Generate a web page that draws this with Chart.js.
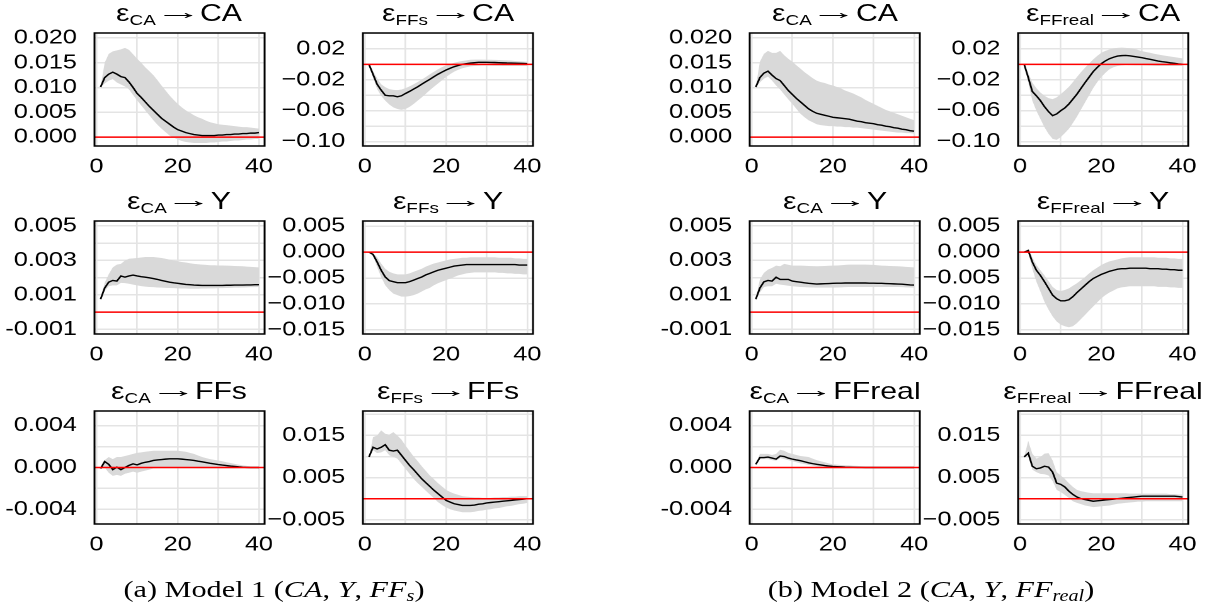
<!DOCTYPE html>
<html>
<head>
<meta charset="utf-8">
<script src="https://cdn.jsdelivr.net/npm/chart.js@4.4.1/dist/chart.umd.min.js"></script>
<style>
  body { margin:0; background:#fff; width:1212px; height:611px; position:relative; overflow:hidden;
         font-family:"Liberation Sans", Arial, sans-serif; }
  #fig { position:absolute; left:0; top:0; height:611px; transform-origin:0 0; }
  canvas { position:absolute; }
  .ttl { position:absolute; width:240px; text-align:center; font-size:24px; line-height:24px; white-space:nowrap; color:#000; }
  .ttl sub { font-size:15px; vertical-align:baseline; position:relative; top:4px; }
  .ttl .arr { display:inline-block; font-size:22px; transform:translateY(-2px) scaleX(1.7); margin:0 6px 0 7px; }
  .cap { position:absolute; width:400px; text-align:center; font-family:"Liberation Serif", "DejaVu Serif", serif;
         font-size:24px; line-height:24px; white-space:nowrap; color:#000; }
  .cap sub { font-size:16px; vertical-align:baseline; position:relative; top:4px; }
</style>
</head>
<body>
<div id="fig"></div>
<script>
// impulse horizon
var steps = [1,2,3,4,5,6,7,8,9,10,11,12,13,14,15,16,17,18,19,20,
             21,22,23,24,25,26,27,28,29,30,31,32,33,34,35,36,37,38,39,40];

// tick labels
var xTicks = ['0','20','40'];
var tickCA = ['0.020','0.015','0.010','0.005','0.000'];
var tickShockCA = ['0.02','\u22120.02','\u22120.06','\u22120.10'];
var tickY = ['0.005','0.003','0.001','-0.001'];
var tickShockY = ['0.005','0.000','\u22120.005','\u22120.010','\u22120.015'];
var tickFF = ['0.004','0.000','-0.004'];
var tickShockFF = ['0.015','0.005','\u22120.005'];

// ---- Model 1 ----
var m1CaCaMid = [0.0101,0.0120,0.0127,0.0131,0.0127,0.0122,0.0120,0.0111,0.0100,0.0088,0.0080,0.0071,0.0062,0.0054,0.0046,0.0038,0.0032,0.0026,0.0020,0.0015,
                 0.0012,0.0009,0.0007,0.0005,0.0004,0.0003,0.0003,0.0003,0.0003,0.0004,0.0004,0.0005,0.0005,0.0006,0.0006,0.0007,0.0007,0.0008,0.0008,0.0009];
var m1CaCaHi  = [0.0101,0.0150,0.0168,0.0173,0.0175,0.0177,0.0180,0.0176,0.0167,0.0158,0.0150,0.0141,0.0133,0.0125,0.0115,0.0104,0.0094,0.0084,0.0075,0.0067,
                 0.0060,0.0054,0.0049,0.0044,0.0040,0.0037,0.0033,0.0030,0.0028,0.0026,0.0025,0.0024,0.0023,0.0022,0.0021,0.0020,0.0020,0.0019,0.0018,0.0017];
var m1CaCaLo  = [0.0101,0.0108,0.0114,0.0117,0.0110,0.0106,0.0102,0.0096,0.0085,0.0074,0.0064,0.0054,0.0044,0.0034,0.0025,0.0017,0.0010,0.0003,-0.0001,-0.0005,
                 -0.0008,-0.0010,-0.0011,-0.0012,-0.0012,-0.0012,-0.0012,-0.0011,-0.0011,-0.0010,-0.0009,-0.0009,-0.0008,-0.0007,-0.0007,-0.0006,-0.0005,-0.0005,-0.0004,-0.0004];

var m1FfCaMid = [0,-0.0130,-0.0257,-0.0334,-0.0400,-0.0407,-0.0407,-0.0420,-0.0407,-0.0377,-0.0350,-0.0320,-0.0290,-0.0257,-0.0225,-0.0193,-0.0160,-0.0128,-0.0100,-0.0073,
                 -0.0050,-0.0030,-0.0014,0.0000,0.0009,0.0017,0.0022,0.0026,0.0026,0.0026,0.0025,0.0024,0.0022,0.0020,0.0018,0.0017,0.0015,0.0013,0.0011,0.0009];
var m1FfCaHi  = [0,-0.0086,-0.0180,-0.0257,-0.0295,-0.0320,-0.0330,-0.0334,-0.0325,-0.0308,-0.0285,-0.0257,-0.0228,-0.0197,-0.0163,-0.0128,-0.0095,-0.0064,-0.0036,-0.0013,
                 0.0005,0.0021,0.0033,0.0043,0.0052,0.0060,0.0062,0.0062,0.0061,0.0060,0.0059,0.0058,0.0056,0.0054,0.0051,0.0048,0.0044,0.0040,0.0037,0.0034];
var m1FfCaLo  = [0,-0.0170,-0.0320,-0.0407,-0.0470,-0.0520,-0.0557,-0.0578,-0.0590,-0.0578,-0.0550,-0.0514,-0.0470,-0.0428,-0.0380,-0.0334,-0.0290,-0.0248,-0.0205,-0.0163,
                 -0.0127,-0.0094,-0.0070,-0.0051,-0.0037,-0.0026,-0.0021,-0.0018,-0.0017,-0.0017,-0.0018,-0.0019,-0.0020,-0.0021,-0.0021,-0.0021,-0.0021,-0.0021,-0.0021,-0.0021];

var m1CaYMid = [0.00075,0.00140,0.00174,0.00184,0.00180,0.00210,0.00203,0.00210,0.00215,0.00210,0.00206,0.00203,0.00199,0.00195,0.00190,0.00184,0.00179,0.00174,0.00170,0.00167,
                0.00164,0.00161,0.00159,0.00157,0.00156,0.00155,0.00155,0.00155,0.00155,0.00155,0.00155,0.00156,0.00156,0.00157,0.00157,0.00157,0.00158,0.00158,0.00159,0.00159];
var m1CaYHi  = [0.00075,0.00170,0.00220,0.00260,0.00276,0.00280,0.00300,0.00310,0.00312,0.00314,0.00317,0.00320,0.00320,0.00320,0.00317,0.00314,0.00310,0.00305,0.00300,0.00295,
                0.00291,0.00288,0.00284,0.00280,0.00278,0.00276,0.00274,0.00272,0.00272,0.00271,0.00271,0.00270,0.00269,0.00268,0.00267,0.00266,0.00264,0.00263,0.00261,0.00260];
var m1CaYLo  = [0.00075,0.00123,0.00150,0.00155,0.00155,0.00170,0.00168,0.00165,0.00160,0.00155,0.00151,0.00148,0.00146,0.00145,0.00143,0.00142,0.00141,0.00140,0.00139,0.00138,
                0.00137,0.00137,0.00136,0.00136,0.00136,0.00137,0.00137,0.00138,0.00138,0.00139,0.00139,0.00140,0.00141,0.00142,0.00142,0.00143,0.00144,0.00145,0.00145,0.00146];

var m1FfYMid = [0,-0.00045,-0.0019,-0.0035,-0.0048,-0.0055,-0.0057,-0.0059,-0.0059,-0.0059,-0.0057,-0.0054,-0.0051,-0.0048,-0.0044,-0.0041,-0.0038,-0.0035,-0.0033,-0.0031,
                -0.0029,-0.0027,-0.0026,-0.0025,-0.0024,-0.0024,-0.0024,-0.0024,-0.0024,-0.0024,-0.0024,-0.0024,-0.0024,-0.0024,-0.0024,-0.0024,-0.0024,-0.0025,-0.0025,-0.0025];
var m1FfYHi  = [0,-0.0002,-0.0010,-0.0022,-0.0032,-0.0038,-0.0041,-0.0043,-0.0043,-0.0043,-0.0041,-0.0038,-0.0035,-0.0032,-0.0028,-0.0025,-0.0022,-0.0020,-0.0018,-0.0016,
                -0.0014,-0.0013,-0.0012,-0.0011,-0.0011,-0.0010,-0.0010,-0.0010,-0.0010,-0.0010,-0.0010,-0.0010,-0.0011,-0.0011,-0.0011,-0.0011,-0.0012,-0.0012,-0.0013,-0.0013];
var m1FfYLo  = [0,-0.0006,-0.0029,-0.0048,-0.0064,-0.0073,-0.0080,-0.0083,-0.0086,-0.0086,-0.0085,-0.0083,-0.0080,-0.0076,-0.0072,-0.0069,-0.0064,-0.0060,-0.0057,-0.0054,
                -0.0051,-0.0048,-0.0045,-0.0043,-0.0041,-0.0040,-0.0039,-0.0039,-0.0039,-0.0039,-0.0039,-0.0039,-0.0040,-0.0040,-0.0041,-0.0041,-0.0042,-0.0042,-0.0043,-0.0043];

var m1CaFfMid = [-0.0001,0.00057,0.0003,-0.0002,0.00003,-0.0002,0.0000,0.0002,0.00035,0.00025,0.0004,0.0005,0.00057,0.00067,0.00072,0.00076,0.0008,0.00083,0.00083,0.00083,
                 0.0008,0.00076,0.00072,0.00067,0.0006,0.00054,0.00047,0.0004,0.00034,0.00028,0.00023,0.00019,0.00014,0.0001,0.00006,0.00003,0.00001,0,0,0];
var m1CaFfHi  = [-0.0001,0.0007,0.0010,0.0008,0.0010,0.0010,0.0011,0.0012,0.0013,0.0014,0.00145,0.0015,0.00155,0.0016,0.0016,0.0016,0.0016,0.0016,0.0016,0.0016,
                 0.00155,0.0015,0.0014,0.0013,0.00115,0.0010,0.0009,0.0008,0.00073,0.00067,0.0006,0.0005,0.00043,0.00035,0.00028,0.0002,0.00015,0.0001,0.00008,0.00006];
var m1CaFfLo  = [-0.0001,0.0000,-0.0005,-0.0008,-0.0007,-0.0008,-0.0006,-0.0005,-0.0004,-0.0005,-0.0004,-0.0003,-0.0002,-0.0001,-0.00005,0,0,0,0.00003,0.00003,
                 0.00002,0,-0.00003,-0.00005,-0.00007,-0.00008,-0.00009,-0.0001,-0.0001,-0.0001,-0.0001,-0.0001,-0.0001,-0.0001,-0.00008,-0.00007,-0.00006,-0.00005,-0.00004,-0.00003];

var m1FfFfMid = [0.0099,0.0122,0.0118,0.0122,0.0128,0.0115,0.0113,0.0115,0.0103,0.0091,0.0079,0.0069,0.0058,0.0047,0.0038,0.0029,0.0020,0.0012,0.0004,-0.0004,
                 -0.0008,-0.0012,-0.0014,-0.0016,-0.0016,-0.0016,-0.0015,-0.0013,-0.0012,-0.0010,-0.0009,-0.0008,-0.0007,-0.0006,-0.0005,-0.0004,-0.0003,-0.0002,-0.0001,0.0000];
var m1FfFfHi  = [0.0099,0.0146,0.0150,0.0162,0.0154,0.0152,0.0158,0.0150,0.0140,0.0126,0.0113,0.0100,0.0089,0.0077,0.0066,0.0055,0.0046,0.0037,0.0029,0.0021,
                 0.0016,0.0012,0.0009,0.0006,0.0005,0.0004,0.0003,0.0003,0.0002,0.0002,0.0002,0.0003,0.0003,0.0004,0.0004,0.0005,0.0005,0.0006,0.0006,0.0006];
var m1FfFfLo  = [0.0099,0.0115,0.0108,0.0110,0.0115,0.0103,0.0099,0.0095,0.0083,0.0071,0.0059,0.0047,0.0037,0.0028,0.0019,0.0010,0.0001,-0.0008,-0.0015,-0.0021,
                 -0.0025,-0.0028,-0.0030,-0.0032,-0.0032,-0.0032,-0.0031,-0.0029,-0.0028,-0.0026,-0.0025,-0.0023,-0.0022,-0.0020,-0.0018,-0.0017,-0.0015,-0.0013,-0.0012,-0.0010];

// ---- Model 2 ----
var m2CaCaMid = [0.0101,0.0120,0.0129,0.0133,0.0125,0.0118,0.0114,0.0104,0.0094,0.0086,0.0078,0.0071,0.0064,0.0057,0.0052,0.0048,0.0046,0.0044,0.0042,0.0040,
                 0.0039,0.0038,0.0037,0.0036,0.0034,0.0032,0.0031,0.0029,0.0028,0.0027,0.0025,0.0024,0.0022,0.0021,0.0019,0.0018,0.0016,0.0015,0.0013,0.0012];
var m2CaCaHi  = [0.0101,0.0152,0.0168,0.0174,0.0170,0.0170,0.0174,0.0165,0.0158,0.0152,0.0145,0.0138,0.0131,0.0125,0.0119,0.0114,0.0111,0.0109,0.0106,0.0104,
                 0.0101,0.0098,0.0094,0.0091,0.0088,0.0084,0.0080,0.0075,0.0071,0.0067,0.0063,0.0059,0.0055,0.0052,0.0049,0.0046,0.0043,0.0040,0.0037,0.0034];
var m2CaCaLo  = [0.0101,0.0110,0.0118,0.0122,0.0114,0.0104,0.0096,0.0086,0.0076,0.0067,0.0057,0.0047,0.0040,0.0034,0.0030,0.0026,0.0024,0.0023,0.0022,0.0022,
                 0.0021,0.0021,0.0020,0.0020,0.0019,0.0019,0.0018,0.0017,0.0016,0.0015,0.0014,0.0013,0.0012,0.0011,0.0010,0.0009,0.0009,0.0008,0.0008,0.0007];

var m2FfCaMid = [0,-0.0170,-0.0350,-0.0407,-0.0470,-0.0548,-0.0612,-0.0664,-0.0642,-0.0600,-0.0565,-0.0514,-0.0450,-0.0385,-0.0310,-0.0236,-0.0165,-0.0094,-0.0040,0.0009,
                 0.0045,0.0073,0.0092,0.0107,0.0113,0.0116,0.0111,0.0103,0.0095,0.0086,0.0075,0.0065,0.0054,0.0043,0.0035,0.0028,0.0020,0.0013,0.0006,0.0000];
var m2FfCaHi  = [0,-0.0107,-0.0236,-0.0308,-0.0364,-0.0407,-0.0437,-0.0450,-0.0428,-0.0385,-0.0340,-0.0291,-0.0230,-0.0163,-0.0100,-0.0043,0.0010,0.0064,0.0110,0.0150,
                 0.0175,0.0193,0.0206,0.0214,0.0216,0.0214,0.0208,0.0201,0.0187,0.0171,0.0160,0.0150,0.0138,0.0128,0.0118,0.0110,0.0102,0.0094,0.0085,0.0077];
var m2FfCaLo  = [0,-0.0236,-0.0470,-0.0600,-0.0707,-0.0814,-0.0900,-0.0964,-0.0977,-0.0942,-0.0890,-0.0835,-0.0760,-0.0677,-0.0585,-0.0493,-0.0400,-0.0308,-0.0230,-0.0163,
                 -0.0110,-0.0064,-0.0038,-0.0021,-0.0013,-0.0009,-0.0010,-0.0011,-0.0012,-0.0013,-0.0015,-0.0017,-0.0019,-0.0021,-0.0021,-0.0021,-0.0021,-0.0021,-0.0021,-0.0021];

var m2CaYMid = [0.00075,0.00140,0.00176,0.00184,0.00180,0.00203,0.00190,0.00190,0.00190,0.00180,0.00177,0.00174,0.00170,0.00167,0.00165,0.00163,0.00164,0.00165,0.00166,0.00167,
                0.00168,0.00168,0.00169,0.00169,0.00169,0.00169,0.00169,0.00169,0.00168,0.00168,0.00167,0.00167,0.00166,0.00165,0.00164,0.00163,0.00162,0.00160,0.00158,0.00157];
var m2CaYHi  = [0.00075,0.00190,0.00228,0.00247,0.00257,0.00270,0.00266,0.00280,0.00275,0.00270,0.00270,0.00270,0.00269,0.00268,0.00267,0.00266,0.00267,0.00268,0.00269,0.00270,
                0.00271,0.00272,0.00274,0.00276,0.00276,0.00276,0.00276,0.00276,0.00275,0.00274,0.00272,0.00270,0.00269,0.00268,0.00267,0.00266,0.00265,0.00263,0.00261,0.00260];
var m2CaYLo  = [0.00075,0.00113,0.00146,0.00150,0.00150,0.00165,0.00160,0.00157,0.00153,0.00150,0.00148,0.00146,0.00145,0.00144,0.00143,0.00142,0.00142,0.00142,0.00142,0.00142,
                0.00143,0.00144,0.00145,0.00146,0.00146,0.00146,0.00146,0.00146,0.00146,0.00146,0.00146,0.00146,0.00146,0.00146,0.00146,0.00146,0.00145,0.00144,0.00143,0.00142];

var m2FfYMid = [0,0.0003,-0.0019,-0.0035,-0.0045,-0.0057,-0.0070,-0.0083,-0.0090,-0.0094,-0.0094,-0.0092,-0.0086,-0.0078,-0.0071,-0.0064,-0.0057,-0.0051,-0.0047,-0.0043,
                -0.0040,-0.0037,-0.0035,-0.0033,-0.0032,-0.0032,-0.0031,-0.0031,-0.0031,-0.0031,-0.0031,-0.0032,-0.0032,-0.0032,-0.0033,-0.0033,-0.0034,-0.0034,-0.0035,-0.0035];
var m2FfYHi  = [0,0.0006,-0.0010,-0.0025,-0.0035,-0.0045,-0.0056,-0.0067,-0.0073,-0.0075,-0.0073,-0.0070,-0.0065,-0.0060,-0.0054,-0.0048,-0.0041,-0.0035,-0.0030,-0.0025,
                -0.0021,-0.0018,-0.0016,-0.0014,-0.0012,-0.0011,-0.0010,-0.0010,-0.0010,-0.0010,-0.0010,-0.0010,-0.0010,-0.0011,-0.0011,-0.0011,-0.0012,-0.0012,-0.0013,-0.0013];
var m2FfYLo  = [0,-0.0001,-0.0032,-0.0057,-0.0076,-0.0096,-0.0111,-0.0124,-0.0134,-0.0140,-0.0143,-0.0145,-0.0143,-0.0137,-0.0129,-0.0121,-0.0113,-0.0105,-0.0097,-0.0089,
                -0.0083,-0.0078,-0.0074,-0.0070,-0.0068,-0.0067,-0.0066,-0.0066,-0.0066,-0.0066,-0.0066,-0.0066,-0.0066,-0.0067,-0.0067,-0.0067,-0.0068,-0.0068,-0.0069,-0.0069];

var m2CaFfMid = [0.0003,0.00095,0.00095,0.0010,0.0009,0.0008,0.0011,0.00105,0.0009,0.0008,0.00072,0.00065,0.00055,0.00045,0.00037,0.0003,0.00024,0.00018,0.00014,0.0001,
                 0.00008,0.00006,0.00004,0.00003,0.00002,0.00001,0.00001,0,0,0,0,0,0,0,0,0,0,0,0,0];
var m2CaFfHi  = [0.0003,0.0013,0.0013,0.0013,0.0012,0.0013,0.0017,0.0016,0.0014,0.0013,0.0012,0.0011,0.00105,0.0010,0.00085,0.0007,0.0006,0.0005,0.0004,0.0003,
                 0.00027,0.00024,0.00021,0.0002,0.00017,0.00015,0.00012,0.0001,0.00009,0.00008,0.00007,0.00006,0.00005,0.00005,0.00004,0.00004,0.00003,0.00003,0.00003,0.00003];
var m2CaFfLo  = [0.0003,0.0008,0.0008,0.0008,0.0007,0.00065,0.0009,0.0008,0.0007,0.0006,0.0005,0.0004,0.00032,0.00025,0.00018,0.0001,0.00006,0.00003,0,-0.00003,
                 -0.00004,-0.00005,-0.00006,-0.00006,-0.00006,-0.00006,-0.00006,-0.00006,-0.00006,-0.00006,-0.00006,-0.00006,-0.00005,-0.00005,-0.00005,-0.00005,-0.00004,-0.00004,-0.00003,-0.00003];

var m2FfFfMid = [0.0099,0.0108,0.0077,0.0071,0.0073,0.0077,0.0075,0.0063,0.0037,0.0034,0.0028,0.0018,0.0010,0.0004,0.0000,-0.0002,-0.0004,-0.0006,-0.0005,-0.0004,
                 -0.0003,-0.0002,-0.0001,0.0000,0.0001,0.0002,0.0003,0.0004,0.0005,0.0006,0.0006,0.0006,0.0006,0.0006,0.0006,0.0006,0.0006,0.0006,0.0005,0.0004];
var m2FfFfHi  = [0.0099,0.0137,0.0107,0.0095,0.0099,0.0107,0.0108,0.0091,0.0063,0.0055,0.0047,0.0037,0.0028,0.0021,0.0018,0.0016,0.0014,0.0013,0.0013,0.0013,
                 0.0013,0.0013,0.0013,0.0013,0.0013,0.0013,0.0012,0.0012,0.0012,0.0012,0.0012,0.0012,0.0012,0.0012,0.0012,0.0012,0.0011,0.0011,0.0010,0.0010];
var m2FfFfLo  = [0.0099,0.0115,0.0069,0.0063,0.0059,0.0058,0.0055,0.0042,0.0021,0.0016,0.0009,0.0002,-0.0006,-0.0010,-0.0013,-0.0016,-0.0018,-0.0020,-0.0019,-0.0018,
                 -0.0017,-0.0016,-0.0014,-0.0012,-0.0011,-0.0010,-0.0009,-0.0008,-0.0007,-0.0007,-0.0006,-0.0006,-0.0006,-0.0006,-0.0006,-0.0006,-0.0006,-0.0006,-0.0006,-0.0006];

// axis ranges per response row
var axCA      = {min:-0.0018, max:0.021,  step:0.005, labels:tickCA};
var axShockCA = {min:-0.1057, max:0.0406, step:0.02,  labels:tickShockCA};
var axY       = {min:-0.00127,max:0.00529,step:0.001, labels:tickY};
var axShockY  = {min:-0.0158, max:0.006,  step:0.005, labels:tickShockY};
var axFF      = {min:-0.0054, max:0.0054, step:0.002, labels:tickFF};
var axShockFF = {min:-0.006,  max:0.0208, step:0.005, labels:tickShockFF};

// the figure is drawn narrow and stretched sideways, like the original
var S = 1.26;
var fig = document.getElementById('fig');
fig.style.width = (1212 / S) + 'px';
fig.style.transform = 'scaleX(' + S + ')';

var colLeft = [94, 363, 750, 1018];   // box left edges on the page
var rowTop = [33, 221, 411];
var boxW = Math.round(170 / S), boxH = 113;
var yAxW = 80, padTop = 36, padRight = 20, xAxH = 40;

var panels = [
  {c:0, r:0, shock:'CA', resp:'CA', ax:axCA, mid:m1CaCaMid, hi:m1CaCaHi, lo:m1CaCaLo},
  {c:1, r:0, shock:'FFs', resp:'CA', ax:axShockCA, mid:m1FfCaMid, hi:m1FfCaHi, lo:m1FfCaLo},
  {c:0, r:1, shock:'CA', resp:'Y', ax:axY, mid:m1CaYMid, hi:m1CaYHi, lo:m1CaYLo},
  {c:1, r:1, shock:'FFs', resp:'Y', ax:axShockY, mid:m1FfYMid, hi:m1FfYHi, lo:m1FfYLo},
  {c:0, r:2, shock:'CA', resp:'FFs', ax:axFF, mid:m1CaFfMid, hi:m1CaFfHi, lo:m1CaFfLo},
  {c:1, r:2, shock:'FFs', resp:'FFs', ax:axShockFF, mid:m1FfFfMid, hi:m1FfFfHi, lo:m1FfFfLo},
  {c:2, r:0, shock:'CA', resp:'CA', ax:axCA, mid:m2CaCaMid, hi:m2CaCaHi, lo:m2CaCaLo},
  {c:3, r:0, shock:'FFreal', resp:'CA', ax:axShockCA, mid:m2FfCaMid, hi:m2FfCaHi, lo:m2FfCaLo},
  {c:2, r:1, shock:'CA', resp:'Y', ax:axY, mid:m2CaYMid, hi:m2CaYHi, lo:m2CaYLo},
  {c:3, r:1, shock:'FFreal', resp:'Y', ax:axShockY, mid:m2FfYMid, hi:m2FfYHi, lo:m2FfYLo},
  {c:2, r:2, shock:'CA', resp:'FFreal', ax:axFF, mid:m2CaFfMid, hi:m2CaFfHi, lo:m2CaFfLo},
  {c:3, r:2, shock:'FFreal', resp:'FFreal', ax:axShockFF, mid:m2FfFfMid, hi:m2FfFfHi, lo:m2FfFfLo}
];

function labelFor(list, v) {
  for (var i = 0; i < list.length; i++) {
    var n = parseFloat(list[i].replace('\u2212', '-'));
    if (Math.abs(n - v) < 1e-9) return list[i];
  }
  return '';
}

var framePlugin = {
  id: 'frame',
  afterDatasetsDraw: function(chart) {
    var ctx = chart.ctx, a = chart.chartArea;
    var y0 = chart.scales.y.getPixelForValue(0);
    ctx.save();
    ctx.beginPath();
    ctx.strokeStyle = '#ff0000';
    ctx.lineWidth = 1.5;
    ctx.moveTo(a.left, y0);
    ctx.lineTo(a.right, y0);
    ctx.stroke();
    ctx.strokeStyle = '#000';
    ctx.lineWidth = 1.5;
    ctx.strokeRect(a.left, a.top, a.right - a.left, a.bottom - a.top);
    ctx.restore();
  }
};

var tickFont = {family:'"Liberation Sans", Arial, sans-serif', size:20, lineHeight:1.2};

panels.forEach(function(p) {
  var left = colLeft[p.c] / S, top = rowTop[p.r];

  var cv = document.createElement('canvas');
  cv.width = yAxW + boxW + padRight;
  cv.height = padTop + boxH + xAxH;
  cv.style.left = (left - yAxW) + 'px';
  cv.style.top = (top - padTop) + 'px';
  fig.appendChild(cv);

  var t = document.createElement('div');
  t.className = 'ttl';
  t.style.left = (left + boxW / 2 - 120) + 'px';
  t.style.top = (top - 32) + 'px';
  t.innerHTML = '\u03b5<sub>' + p.shock + '</sub><span class="arr">\u2192</span>' + p.resp;
  fig.appendChild(t);

  new Chart(cv, {
    type: 'line',
    data: {
      labels: steps,
      datasets: [
        {data: p.mid, borderColor: '#000', borderWidth: 1.4, pointRadius: 0, fill: false, tension: 0},
        {data: p.lo, borderWidth: 0, borderColor: 'rgba(0,0,0,0)', pointRadius: 0, fill: false, tension: 0},
        {data: p.hi, borderWidth: 0, borderColor: 'rgba(0,0,0,0)', pointRadius: 0, fill: '-1', backgroundColor: '#d9d9d9', tension: 0}
      ]
    },
    options: {
      responsive: false,
      devicePixelRatio: 2,
      animation: false,
      events: [],
      layout: {padding: {top: padTop, right: padRight, left: 0, bottom: 0}},
      plugins: {legend: {display: false}, tooltip: {enabled: false}},
      scales: {
        x: {
          type: 'linear', min: -0.5, max: 41.4,
          afterFit: function(s) { s.height = xAxH; },
          border: {display: false},
          grid: {color: '#e4e4e4', lineWidth: 1.3, drawTicks: false},
          ticks: {stepSize: 10, includeBounds: false, autoSkip: false, maxRotation: 0, padding: 9,
                  color: '#000', font: tickFont,
                  callback: function(v) { return labelFor(xTicks, v); }}
        },
        y: {
          min: p.ax.min, max: p.ax.max,
          afterFit: function(s) { s.width = yAxW; },
          border: {display: false},
          grid: {color: '#e4e4e4', lineWidth: 1.5, drawTicks: false},
          ticks: {stepSize: p.ax.step, includeBounds: false, autoSkip: false, padding: 14,
                  color: '#000', font: tickFont,
                  callback: function(v) { return labelFor(p.ax.labels, v); }}
        }
      }
    },
    plugins: [framePlugin]
  });
});

var capA = document.createElement('div');
capA.className = 'cap';
capA.style.left = (274 / S - 200) + 'px';
capA.style.top = '577px';
capA.innerHTML = '(a) Model 1 (<i>CA</i>, <i>Y</i>, <i>FF<sub>s</sub></i>)';
fig.appendChild(capA);

var capB = document.createElement('div');
capB.className = 'cap';
capB.style.left = (931 / S - 200) + 'px';
capB.style.top = '577px';
capB.innerHTML = '(b) Model 2 (<i>CA</i>, <i>Y</i>, <i>FF<sub>real</sub></i>)';
fig.appendChild(capB);
</script>
</body>
</html>
